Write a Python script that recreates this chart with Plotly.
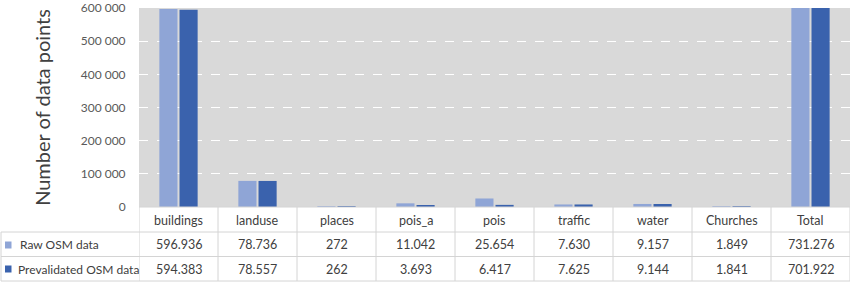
import plotly.graph_objects as go

categories = ["buildings", "landuse", "places", "pois_a", "pois", "traffic", "water", "Churches", "Total"]
raw_osm = [596936, 78736, 272, 11042, 25654, 7630, 9157, 1849, 731276]
prevalidated_osm = [594383, 78557, 262, 3693, 6417, 7625, 9144, 1841, 701922]
series_names = ["Raw OSM data", "Prevalidated OSM data"]
y_ticks = [0, 100000, 200000, 300000, 400000, 500000, 600000]

LIGHT = "#8fa5d6"
DARK = "#3a62ad"
FONT = "Lato, Carlito, Calibri, sans-serif"
TXT = "#404040"
GRIDC = "#d4d4d4"

W, H = 851, 284
L, R, T, B = 139, 1, 8, 77
PW, PH = W - L - R, H - T - B


def px_x(px):
    return (px - L) / PW


def px_y(py):
    return (H - B - py) / PH


def fmt(v):
    return f"{v:,}".replace(",", ".")


fig = go.Figure()
fig.add_bar(x=list(range(len(categories))), y=raw_osm, name=series_names[0],
            marker=dict(color=LIGHT, line=dict(width=0)))
fig.add_bar(x=list(range(len(categories))), y=prevalidated_osm, name=series_names[1],
            marker=dict(color=DARK, line=dict(width=0)))

shapes = []
n = len(categories)
for k in range(n + 1):
    shapes.append(dict(type="line", xref="x", yref="paper", x0=k - 0.5, x1=k - 0.5,
                       y0=px_y(207), y1=px_y(281), line=dict(color=GRIDC, width=1)))
shapes.append(dict(type="line", xref="paper", yref="paper", x0=px_x(1), x1=px_x(1),
                   y0=px_y(232), y1=px_y(281), line=dict(color=GRIDC, width=1)))
shapes.append(dict(type="line", xref="paper", yref="paper", x0=0, x1=1,
                   y0=px_y(207), y1=px_y(207), line=dict(color=GRIDC, width=1)))
for py in (232, 256.5, 281):
    shapes.append(dict(type="line", xref="paper", yref="paper", x0=px_x(1), x1=1,
                       y0=px_y(py), y1=px_y(py), line=dict(color=GRIDC, width=1)))
for py0, col in ((241.5, LIGHT), (265.5, DARK)):
    shapes.append(dict(type="rect", xref="paper", yref="paper", x0=px_x(5), x1=px_x(11.5),
                       y0=px_y(py0 + 7), y1=px_y(py0), fillcolor=col, line=dict(width=0)))

TS = 12
annotations = []
for i, c in enumerate(categories):
    annotations.append(dict(x=i, y=px_y(220), xref="x", yref="paper", text=c, showarrow=False,
                            font=dict(family=FONT, size=12.5, color=TXT), xanchor="center", yanchor="middle"))
    annotations.append(dict(x=i, y=px_y(244.5), xref="x", yref="paper", text=fmt(raw_osm[i]), showarrow=False,
                            font=dict(family=FONT, size=12.5, color=TXT), xanchor="center", yanchor="middle"))
    annotations.append(dict(x=i, y=px_y(269), xref="x", yref="paper", text=fmt(prevalidated_osm[i]), showarrow=False,
                            font=dict(family=FONT, size=12.5, color=TXT), xanchor="center", yanchor="middle"))
annotations.append(dict(x=px_x(18), y=px_y(244.5), xref="paper", yref="paper", text=series_names[0], showarrow=False,
                        font=dict(family=FONT, size=TS, color=TXT), xanchor="left", yanchor="middle"))
annotations.append(dict(x=px_x(16), y=px_y(269), xref="paper", yref="paper", text=series_names[1], showarrow=False,
                        font=dict(family=FONT, size=TS, color=TXT), xanchor="left", yanchor="middle"))

fig.update_layout(
    width=W, height=H,
    margin=dict(l=L, r=R, t=T, b=B, pad=0, autoexpand=False),
    paper_bgcolor="white",
    plot_bgcolor="#d9d9d9",
    barmode="group",
    bargap=0.49,
    bargroupgap=0.1,
    showlegend=False,
    separators=". ",
    font=dict(family=FONT, color=TXT),
    shapes=shapes,
    annotations=annotations,
    xaxis=dict(range=[-0.5, n - 0.5], showticklabels=False, showgrid=False, zeroline=False,
               fixedrange=True),
    yaxis=dict(range=[0, 600000], tickvals=y_ticks, tickformat=",d", showgrid=True,
               gridcolor="white", griddash="dash", gridwidth=1, zeroline=False,
               automargin=False, ticklabeloverflow="allow",
               ticks="outside", ticklen=10, tickcolor="rgba(0,0,0,0)",
               tickfont=dict(family=FONT, size=12, color="#595959"),
               title=dict(text="Number of data points", font=dict(family=FONT, size=20, color=TXT),
                          standoff=24)),
)

fig.write_html("out.html", config={"displayModeBar": False},
               post_script="document.body.style.margin='0';document.body.style.padding='0';")
